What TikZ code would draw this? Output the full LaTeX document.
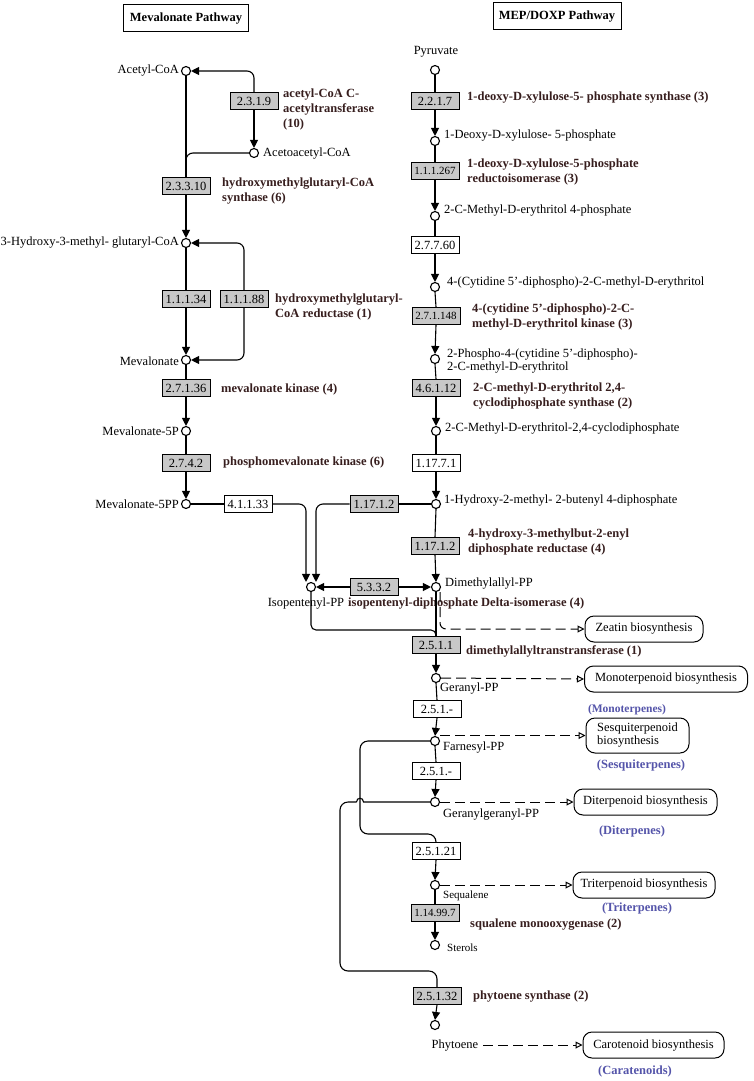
\documentclass[tikz,border=0pt]{standalone}
\usepackage{fontspec}
\setmainfont{Liberation Serif}
\usetikzlibrary{arrows.meta,calc}
\definecolor{ecgray}{RGB}{200,200,200}
\definecolor{enzcol}{RGB}{55,30,30}
\definecolor{bluecol}{RGB}{85,85,170}
\begin{document}
\begin{tikzpicture}[x=1pt,y=-1pt,
  cpd/.style={circle,draw,fill=white,inner sep=0pt,minimum size=9pt,line width=1.1pt},
  ec/.style={draw,fill=ecgray,inner sep=0pt,minimum width=48pt,minimum height=17pt,line width=1pt,font=\fontsize{12.5}{14}\selectfont},
  ecs/.style={ec,font=\fontsize{11}{13}\selectfont},
  ecw/.style={ec,fill=white},
  cname/.style={inner sep=0pt,font=\fontsize{12.5}{14}\selectfont},
  cnames/.style={inner sep=0pt,font=\fontsize{11}{13}\selectfont},
  ename/.style={inner sep=0pt,align=left,font=\fontsize{12.5}{15}\selectfont\bfseries,text=enzcol},
  plabel/.style={inner sep=0pt,font=\fontsize{12.5}{14}\selectfont\bfseries,text=bluecol},
  pbox/.style={draw,rounded corners=9pt,line width=1pt,minimum height=26pt,inner sep=0pt,font=\fontsize{12.5}{14}\selectfont},
  titlebox/.style={draw,line width=1pt,minimum height=27pt,inner sep=0pt,font=\fontsize{12.5}{14}\selectfont\bfseries},
  conn/.style={line width=1.1pt},
  arr/.style={conn,-{Triangle[length=8pt,width=8pt]}},
  darr/.style={line width=1pt,dash pattern=on 10pt off 5pt,-{Triangle[open,length=7pt,width=7pt]}}]
\useasboundingbox[fill=white] (0,0) rectangle (753,1081);

% titles
\node[titlebox,minimum width=125pt] (t1) at (186,18.5) {Mevalonate Pathway};
\node[titlebox,minimum width=128pt] (t2) at (557,16.5) {MEP/DOXP Pathway};

% ---------------- mevalonate pathway
\node[cpd] (acoa) at (186,71) {};
\node[cname,anchor=east] at (179,71) {Acetyl-CoA};
\node[ec] (e2319) at (254,101) {2.3.1.9};
\node[ename,anchor=north west] at (283,89) {acetyl-CoA C-\\acetyltransferase\\(10)};
\node[cpd] (aacoa) at (254,153) {};
\node[cname,anchor=west] at (263,154) {Acetoacetyl-CoA};
\node[ec] (e23310) at (186,186) {2.3.3.10};
\node[ename,anchor=north west] at (222,178) {hydroxymethylglutaryl-CoA\\synthase (6)};
\node[cpd] (hmg) at (186,243) {};
\node[cname,anchor=east] at (179,243) {3-Hydroxy-3-methyl- glutaryl-CoA};
\node[ec] (e11134) at (186,299) {1.1.1.34};
\node[ec] (e11188) at (244,299) {1.1.1.88};
\node[ename,anchor=north west] at (275,294) {hydroxymethylglutaryl-\\CoA reductase (1)};
\node[cpd] (mev) at (186,360) {};
\node[cname,anchor=east] at (179,361) {Mevalonate};
\node[ec] (e27136) at (186,388) {2.7.1.36};
\node[ename,anchor=west] at (221,389) {mevalonate kinase (4)};
\node[cpd] (mev5p) at (186,431) {};
\node[cname,anchor=east] at (179,431) {Mevalonate-5P};
\node[ec] (e2742) at (186,463) {2.7.4.2};
\node[ename,anchor=west] at (223,462) {phosphomevalonate kinase (6)};
\node[cpd] (mev5pp) at (186,504) {};
\node[cname,anchor=east] at (179,504) {Mevalonate-5PP};
\node[ecw] (e41133) at (248,504) {4.1.1.33};
\node[cpd] (ipp) at (311,587) {};
\node[cname] at (306,604) {Isopentenyl-PP};
\node[ename,anchor=west] at (348,604) {isopentenyl-diphosphate Delta-isomerase (4)};
\node[ec] (e5332) at (374,587) {5.3.3.2};
\node[ec] (e117l) at (374,504) {1.17.1.2};

% ---------------- MEP pathway
\node[cname] at (436,52) {Pyruvate};
\node[cpd] (pyr) at (435,70) {};
\node[ec] (e2217) at (435,101) {2.2.1.7};
\node[ename,anchor=west] at (467,98) {1-deoxy-D-xylulose-5- phosphate synthase (3)};
\node[cpd] (dxp) at (435,141) {};
\node[cname,anchor=west] at (444,136) {1-Deoxy-D-xylulose- 5-phosphate};
\node[ecs] (e111267) at (435,171) {1.1.1.267};
\node[ename,anchor=north west] at (467,159) {1-deoxy-D-xylulose-5-phosphate\\reductoisomerase (3)};
\node[cpd] (mep) at (435,216) {};
\node[cname,anchor=west] at (444,211) {2-C-Methyl-D-erythritol 4-phosphate};
\node[ecw] (e27760) at (435,245) {2.7.7.60};
\node[cpd] (cdpme) at (435,287) {};
\node[cname,anchor=west] at (447,283) {4-(Cytidine 5'-diphospho)-2-C-methyl-D-erythritol};
\node[ecs] (e271148) at (436,316) {2.7.1.148};
\node[ename,anchor=north west] at (472,304) {4-(cytidine 5'-diphospho)-2-C-\\methyl-D-erythritol kinase (3)};
\node[cpd] (cdpmep) at (435,359) {};
\node[cname,anchor=west,align=left,font=\fontsize{12.5}{13}\selectfont] at (447,361) {2-Phospho-4-(cytidine 5'-diphospho)-\\2-C-methyl-D-erythritol};
\node[ec] (e46112) at (436,388) {4.6.1.12};
\node[ename,anchor=north west] at (473,383) {2-C-methyl-D-erythritol 2,4-\\cyclodiphosphate synthase (2)};
\node[cpd] (mecpp) at (436,431) {};
\node[cname,anchor=west] at (445,429) {2-C-Methyl-D-erythritol-2,4-cyclodiphosphate};
\node[ecw] (e11771) at (436,463) {1.17.7.1};
\node[cpd] (hmbpp) at (436,504) {};
\node[cname,anchor=west] at (444,501) {1-Hydroxy-2-methyl- 2-butenyl 4-diphosphate};
\node[ec] (e117r) at (435,546) {1.17.1.2};
\node[ename,anchor=north west] at (468,529) {4-hydroxy-3-methylbut-2-enyl\\diphosphate reductase (4)};
\node[cpd] (dmapp) at (436,587) {};
\node[cname,anchor=west] at (445,584) {Dimethylallyl-PP};
\node[pbox,minimum width=118pt] (zeatin) at (644,629) {Zeatin biosynthesis};
\node[ec] (e2511) at (436,645) {2.5.1.1};
\node[ename,anchor=west] at (466,651) {dimethylallyltranstransferase (1)};
\node[cpd] (gpp) at (436,678) {};
\node[cname,anchor=west] at (440,689) {Geranyl-PP};
\node[pbox,minimum width=163pt] (mono) at (666,679) {Monoterpenoid biosynthesis};
\node[plabel,font=\fontsize{11.5}{13}\selectfont\bfseries] at (627,710) {(Monoterpenes)};
\node[ecw] (e251a) at (437,709) {2.5.1.-};
\node[cpd] (fpp) at (435,741) {};
\node[cname,anchor=west] at (443,748) {Farnesyl-PP};
\node[pbox,minimum width=103pt,minimum height=35pt,align=left,font=\fontsize{12.5}{13}\selectfont] (sesq) at (637.5,735.5) {Sesquiterpenoid\\biosynthesis};
\node[plabel] at (641,765) {(Sesquiterpenes)};
\node[ecw] (e251b) at (436,771) {2.5.1.-};
\node[cpd] (ggpp) at (435,802) {};
\node[cname,anchor=west] at (443,815) {Geranylgeranyl-PP};
\node[pbox,minimum width=143pt] (diterp) at (645.5,802) {Diterpenoid biosynthesis};
\node[plabel] at (632,831) {(Diterpenes)};
\node[ecw] (e25121) at (436,851) {2.5.1.21};
\node[cpd] (sq) at (435,885) {};
\node[cnames,anchor=west] at (443,896) {Sequalene};
\node[pbox,minimum width=142pt] (triterp) at (644,885) {Triterpenoid biosynthesis};
\node[plabel] at (637,908) {(Triterpenes)};
\node[ecs] (e114997) at (435,913) {1.14.99.7};
\node[ename,anchor=west] at (470,925) {squalene monooxygenase (2)};
\node[cpd] (sterol) at (435,945) {};
\node[cnames,anchor=west] at (447,948) {Sterols};
\node[ec] (e25132) at (437,996) {2.5.1.32};
\node[ename,anchor=west] at (473,996) {phytoene synthase (2)};
\node[cpd] (phy) at (435,1025) {};
\node[cname] (phyL) at (455,1045) {Phytoene};
\node[pbox,minimum width=141pt] (carot) at (653.5,1045) {Carotenoid biosynthesis};
\node[plabel] at (635,1071) {(Caratenoids)};

% ---------------- connectors, mevalonate
\draw[arr,rounded corners=7pt] (e2319.north) |- (acoa.east);
\draw[arr] (e2319.south) -- (aacoa.north);
\draw[conn,rounded corners=7pt] (aacoa.west) -| (e23310.north);
\draw[conn] (acoa.south) -- (e23310.north);
\draw[arr] (e23310.south) -- (hmg.north);
\draw[conn] (hmg.south) -- (e11134.north);
\draw[arr] (e11134.south) -- (mev.north);
\draw[arr,rounded corners=7pt] (e11188.north) |- (hmg.east);
\draw[arr,rounded corners=7pt] (e11188.south) |- (mev.east);
\draw[conn] (mev.south) -- (e27136.north);
\draw[arr] (e27136.south) -- (mev5p.north);
\draw[conn] (mev5p.south) -- (e2742.north);
\draw[arr] (e2742.south) -- (mev5pp.north);
\draw[conn] (mev5pp.east) -- (e41133.west);
\draw[arr,rounded corners=7pt] (e41133.east) -| ([xshift=-5pt]ipp.north);
\draw[conn] (hmbpp.west) -- (e117l.east);
\draw[arr,rounded corners=7pt] (e117l.west) -| ([xshift=5pt]ipp.north);
\draw[arr] (e5332.west) -- (ipp.east);
\draw[arr] (e5332.east) -- (dmapp.west);
\draw[conn,rounded corners=5pt] (ipp.south) |- ([yshift=6pt]e2511.north) -- (e2511.north);

% ---------------- connectors, MEP
\draw[conn] (pyr.south) -- (e2217.north);
\draw[arr] (e2217.south) -- (dxp.north);
\draw[conn] (dxp.south) -- (e111267.north);
\draw[arr] (e111267.south) -- (mep.north);
\draw[conn] (mep.south) -- (e27760.north);
\draw[arr] (e27760.south) -- (cdpme.north);
\draw[conn] (cdpme.south) -- (e271148.north);
\draw[arr] (e271148.south) -- (cdpmep.north);
\draw[conn] (cdpmep.south) -- (e46112.north);
\draw[arr] (e46112.south) -- (mecpp.north);
\draw[conn] (mecpp.south) -- (e11771.north);
\draw[arr] (e11771.south) -- (hmbpp.north);
\draw[conn] (hmbpp.south) -- (e117r.north);
\draw[arr] (e117r.south) -- (dmapp.north);
\draw[conn] (dmapp.south) -- (e2511.north);
\draw[darr,rounded corners=6pt] ([xshift=4pt]dmapp.south) |- (zeatin.west);
\draw[arr] (e2511.south) -- (gpp.north);
\draw[darr] (gpp.east) -- (mono.west);
\draw[conn] (gpp.south) -- (e251a.north);
\draw[arr] (e251a.south) -- (fpp.north);
\draw[darr] (sesq.west -| fpp.east) -- (sesq.west);
\draw[conn] (fpp.south) -- (e251b.north);
\draw[arr] (e251b.south) -- (ggpp.north);
\draw[darr] (ggpp.east) -- (diterp.west);
\draw[conn,rounded corners=8pt] (fpp.west) -- (360,741) -- (360,834) -- (436,834) -- (e25121.north);
\draw[conn] (ggpp.west) -- (363.5,802) .. controls (363.5,797) and (356.5,797) .. (356.5,802);
\draw[conn,rounded corners=8pt] (356.5,802) -- (340,802) -- (340,971) -- (437,971) -- (e25132.north);
\draw[arr] (e25121.south) -- (sq.north);
\draw[darr] (sq.east) -- (triterp.west);
\draw[conn] (sq.south) -- (e114997.north);
\draw[arr] (e114997.south) -- (sterol.north);
\draw[arr] (e25132.south) -- (phy.north);
\draw[darr,shorten <=5pt] (phyL.east) -- (carot.west);
\end{tikzpicture}
\end{document}
